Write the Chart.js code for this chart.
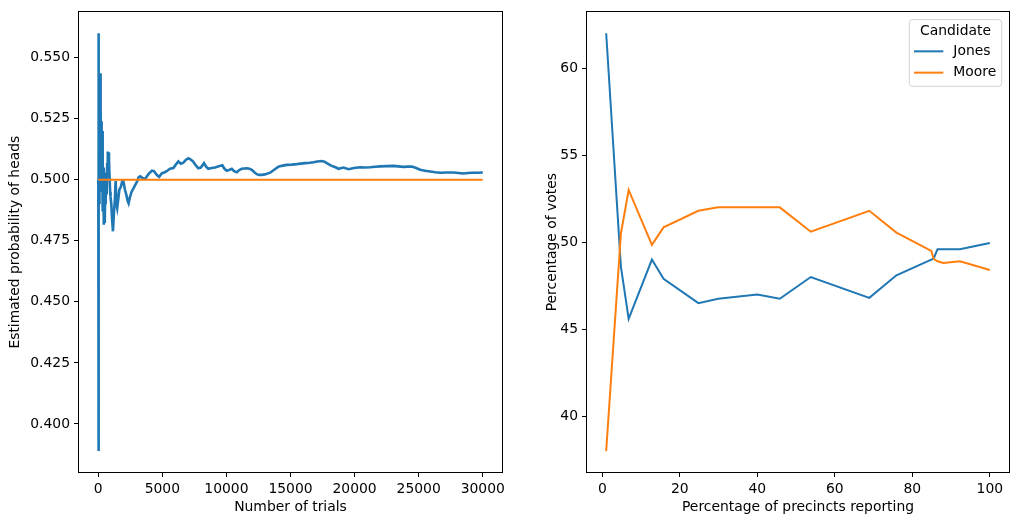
<!DOCTYPE html>
<html><head><meta charset="utf-8">
<script src="https://cdn.jsdelivr.net/npm/chart.js@4"></script>
<style>
html,body{margin:0;padding:0;background:#fff;}
body{width:1019px;height:525px;position:relative;overflow:hidden;}
#c1wrap{position:absolute;left:0;top:0;width:510px;height:525px;}
#c2wrap{position:absolute;left:510px;top:0;width:509px;height:525px;}
</style></head><body>
<div id="c1wrap"><canvas id="c1"></canvas></div>
<div id="c2wrap"><canvas id="c2"></canvas></div>
<script>
// ---- Left chart data ----
const trials = [8,14,18,22,26,32,40,48,56,64,72,82,95,110,125,140,155,170,185,200,215,235,255,275,300,325,345,370,395,420,450,480,510,545,580,620,660,700,730,760,800,840,880,930,960,1020,1080,1150,1220,1300,1360,1420,1480,1560,1650,1760,1870,1960,2080,2190,2290,2370,2480,2600,2760,2900,3050,3150,3280,3450,3670,3800,3950,4190,4350,4580,4750,4970,5150,5341,5600,5862,6050,6253,6450,6643,6850,7034,7160,7400,7600,7810,8000,8253,8400,8590,8850,9112,9400,9685,9850,10027,10200,10417,10600,10808,11000,11200,11589,11800,11979,12200,12370,12550,12760,13000,13408,13700,14058,14400,14711,15100,15492,15800,16141,16500,16792,17100,17445,17650,17836,18100,18353,18550,18743,19134,19524,19950,20436,20800,21217,21600,21998,22500,23039,23400,23820,24150,24472,24800,25122,25500,25903,26300,26683,27200,27727,28100,28508,28850,29158,29600,29999];
const headsEstimate = [0.5,0.42,0.3889,0.47,0.56,0.5,0.535,0.48,0.53,0.495,0.525,0.49,0.52,0.497,0.53,0.5,0.52,0.505,0.5436,0.515,0.53,0.5,0.524,0.495,0.52,0.49,0.508,0.487,0.505,0.49,0.4816,0.495,0.4823,0.497,0.49,0.503,0.494,0.507,0.5116,0.502,0.5112,0.508,0.502,0.495,0.493,0.49,0.484,0.4789,0.486,0.492,0.4995,0.49,0.4884,0.492,0.496,0.497,0.4993,0.4995,0.496,0.4939,0.4915,0.4904,0.493,0.495,0.4966,0.498,0.4995,0.501,0.5014,0.5008,0.5003,0.5015,0.5025,0.5037,0.5035,0.5019,0.5012,0.5027,0.503,0.5035,0.5045,0.5048,0.5062,0.5075,0.5066,0.507,0.5082,0.5088,0.5085,0.5075,0.506,0.5047,0.505,0.5068,0.5055,0.5045,0.5048,0.505,0.5055,0.5059,0.5045,0.5037,0.504,0.5045,0.5035,0.5031,0.504,0.5045,0.5047,0.5045,0.5041,0.503,0.5023,0.502,0.502,0.5022,0.5029,0.504,0.5054,0.5058,0.5061,0.5062,0.5064,0.5066,0.5068,0.507,0.5072,0.5075,0.5077,0.5074,0.5068,0.506,0.5054,0.505,0.5045,0.505,0.5043,0.5048,0.5051,0.505,0.5051,0.5053,0.5055,0.5056,0.5057,0.5055,0.5053,0.5054,0.5054,0.5048,0.5041,0.5037,0.5034,0.5031,0.5029,0.503,0.503,0.5028,0.5026,0.5028,0.5029,0.5029,0.503];
const fairX = [0, 29999];
const fairY = [0.5, 0.5];
const leftXTicks = [0,5000,10000,15000,20000,25000,30000];
const leftYTicks = [0.400,0.425,0.450,0.475,0.500,0.525,0.550];

// ---- Right chart data ----
const precincts = [1,4.8,6.8,12.8,15.8,24.8,29.9,40,45.8,53.8,68.9,75.9,84.9,85.5,86.5,88,92.3,100];
const jones = [62,48.6,45.6,49.0,47.9,46.5,46.75,47.0,46.75,48.0,46.8,48.1,49.0,49.05,49.6,49.6,49.6,49.95];
const moore = [38,50.5,53.0,49.85,50.85,51.8,52.0,52.0,52.0,50.6,51.8,50.55,49.5,49.05,48.9,48.8,48.9,48.4];
const rightXTicks = [0,20,40,60,80,100];
const rightYTicks = [40,45,50,55,60];
const legendTitle = 'Candidate';

const FONT = 'DejaVu Sans';
const FS = 13.9;
const BLUE = '#1f77b4', ORANGE = '#ff7f0e';

function pts(xs, ys){ return xs.map((x,i)=>({x:x,y:ys[i]})); }

function axis(min,max,ticks,fmt,title,fitSize,horiz,titlePad){
  return {
    type:'linear', min:min, max:max,
    afterBuildTicks: s => { s.ticks = ticks.map(v=>({value:v})); },
    afterFit: s => { if(horiz) s.height = fitSize; else s.width = fitSize; },
    grid:{drawOnChartArea:false, drawTicks:true, tickLength:5, tickColor:'#000', tickWidth:1},
    border:{display:false},
    ticks:{color:'#000', font:{family:FONT,size:FS}, padding:4, maxRotation:0, minRotation:0, autoSkip:false, callback: fmt},
    title:{display:true, text:title, color:'#000', font:{family:FONT,size:FS}, padding:titlePad}
  };
}

const framePlugin = {
  id:'frame',
  afterDatasetsDraw(chart){
    const a = chart.chartArea, ctx = chart.ctx;
    ctx.save();
    ctx.strokeStyle = '#000'; ctx.lineWidth = 1;
    ctx.strokeRect(Math.round(a.left)-0.5, Math.round(a.top)-0.5, Math.round(a.right-a.left)+1, Math.round(a.bottom-a.top)+1);
    ctx.restore();
  }
};

const legendPlugin = {
  id:'mplLegend',
  afterDraw(chart){
    const ctx = chart.ctx, a = chart.chartArea;
    const w = 92.4, h = 66.7;
    const x = a.right - 7.3 - w, y = a.top + 7.3;
    const r = 3;
    ctx.save();
    ctx.beginPath();
    ctx.moveTo(x+r, y);
    ctx.lineTo(x+w-r, y); ctx.arcTo(x+w, y, x+w, y+r, r);
    ctx.lineTo(x+w, y+h-r); ctx.arcTo(x+w, y+h, x+w-r, y+h, r);
    ctx.lineTo(x+r, y+h); ctx.arcTo(x, y+h, x, y+h-r, r);
    ctx.lineTo(x, y+r); ctx.arcTo(x, y, x+r, y, r);
    ctx.closePath();
    ctx.fillStyle = 'rgba(255,255,255,0.8)'; ctx.fill();
    ctx.strokeStyle = '#d3d3d3'; ctx.lineWidth = 1; ctx.stroke();
    ctx.font = FS + 'px "' + FONT + '"';
    ctx.fillStyle = '#000'; ctx.textBaseline = 'middle'; ctx.textAlign = 'center';
    ctx.fillText(legendTitle, x + w/2, y + 11.7);
    ctx.textAlign = 'left';
    chart.data.datasets.forEach((ds,i) => {
      const yy = y + 31.7 + i*21.3;
      ctx.beginPath(); ctx.moveTo(x+4.7, yy); ctx.lineTo(x+34, yy);
      ctx.strokeStyle = ds.borderColor; ctx.lineWidth = 2; ctx.stroke();
      ctx.fillStyle = '#000';
      ctx.fillText(ds.label, x+44, yy);
    });
    ctx.restore();
  }
};

const common = {
  responsive:true, maintainAspectRatio:false, animation:false, devicePixelRatio:1,
  plugins:{legend:{display:false}, tooltip:{enabled:false}},
  elements:{point:{radius:0}, line:{tension:0}}
};

new Chart(document.getElementById('c1'), {
  type:'line',
  data:{datasets:[
    {label:'estimate', data:pts(trials, headsEstimate), borderColor:BLUE, borderWidth:2.6, pointRadius:0, fill:false, order:2},
    {label:'fair', data:pts(fairX, fairY), borderColor:ORANGE, borderWidth:2, pointRadius:0, fill:false, order:1}
  ]},
  options:Object.assign({}, common, {
    layout:{padding:{left:0,right:8,top:10,bottom:0}},
    scales:{
      x: axis(-1500, 31500, leftXTicks, v=>String(v), 'Number of trials', 53, true, {top:0,bottom:9}),
      y: axis(0.38034, 0.56856, leftYTicks, v=>Number(v).toFixed(3), 'Estimated probability of heads', 79, false, {top:7.5,bottom:0})
    }
  }),
  plugins:[framePlugin]
});

new Chart(document.getElementById('c2'), {
  type:'line',
  data:{datasets:[
    {label:'Jones', data:pts(precincts, jones), borderColor:BLUE, borderWidth:2, pointRadius:0, fill:false, order:2},
    {label:'Moore', data:pts(precincts, moore), borderColor:ORANGE, borderWidth:2, pointRadius:0, fill:false, order:1}
  ]},
  options:Object.assign({}, common, {
    layout:{padding:{left:0,right:10,top:10,bottom:0}},
    scales:{
      x: axis(-3.95, 104.95, rightXTicks, v=>String(v), 'Percentage of precincts reporting', 53, true, {top:0,bottom:9}),
      y: axis(36.8, 63.2, rightYTicks, v=>String(v), 'Percentage of votes', 77, false, {top:34,bottom:0})
    }
  }),
  plugins:[framePlugin, legendPlugin]
});
</script>
</body></html>
